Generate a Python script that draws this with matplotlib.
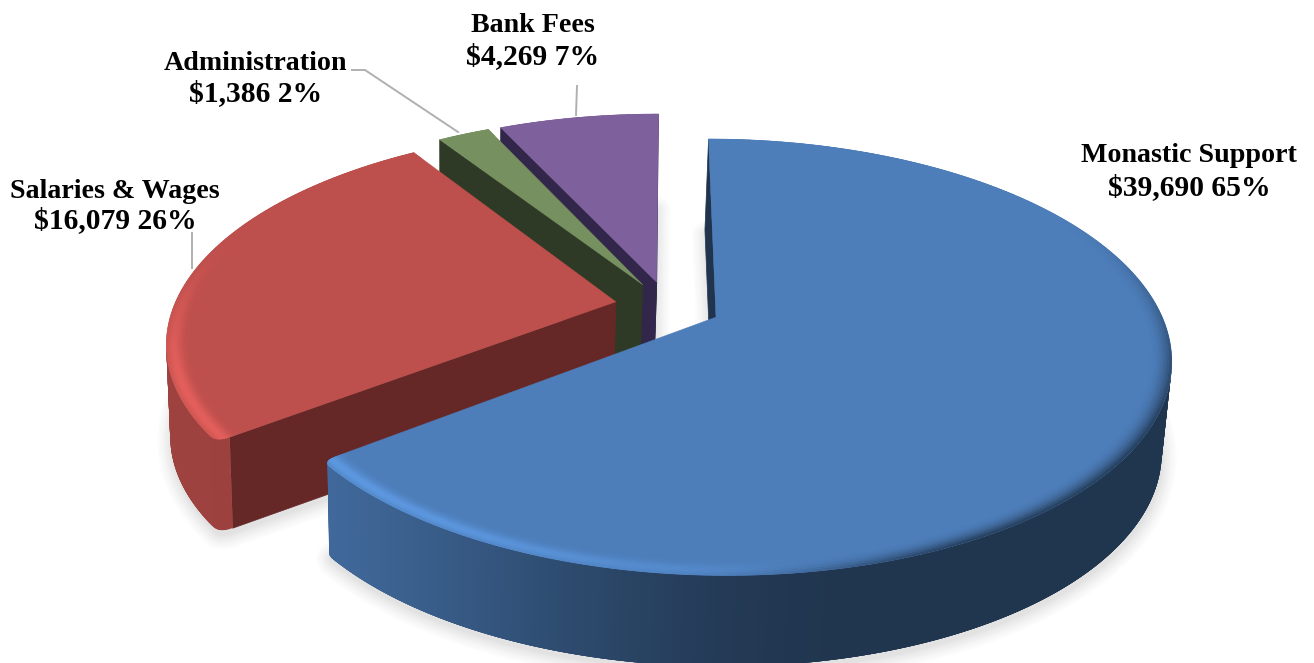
import numpy as np
import matplotlib
matplotlib.use("Agg")
import matplotlib.pyplot as plt
from matplotlib.collections import PolyCollection
from matplotlib.colors import to_rgb
from matplotlib.patches import Polygon

categories = ["Monastic Support", "Salaries & Wages", "Administration", "Bank Fees"]
values = [39690, 16079, 1386, 4269]
top_colors = ["#4d7eba", "#bd4f4c", "#769060", "#7e619c"]
side_colors = ["#20344e", "#662827", "#2e3a25", "#32264a"]

# label centre x, first line y, second line y
label_pos = [(1189, 155, 188), (115, 191, 221), (256, 63, 94), (533, 26, 57)]
leaders = [None, ([192, 192], [233, 268]), ([352, 365, 458], [70, 70, 132]), ([577, 576], [86, 115])]

# pie geometry, in pixels
cx, cy = 668, 306
R = 442
tilt = 0.468
persp = 0.182
explode = 0.12
depth = 91
lean_x, lean = 450, 0.014
fillet_angle, fillet_frac = 1.6, 0.03


def smooth(a, b, x):
    t = np.clip((x - a) / (b - a), 0, 1)
    return t * t * (3 - 2 * t)


def project(u, v):
    u, v = np.asarray(u, float), np.asarray(v, float)
    w = 1 + persp * v
    return cx + R * u / w, cy - R * tilt * v / w


def to_bottom(x, y):
    return x + lean * (lean_x - x), y + depth


def plane(a, ox, oy, frac=1.0):
    t = np.radians(a)
    return ox + frac * np.sin(t), oy + frac * np.cos(t)


def rim_path(a0, a1, ox, oy, step=0.5):
    # plane points along the rim, the front corners get a small fillet
    a_start = a0 + fillet_angle if 180 < a0 < 300 else a0
    a_end = a1 - fillet_angle if 180 < a1 < 300 else a1
    ang = np.r_[np.arange(a_start, a_end, step), a_end]
    u, v = plane(ang, ox, oy)
    s = np.linspace(0, 1, 10)
    if a_start != a0:
        p0, c, p2 = plane(a0, ox, oy, 1 - fillet_frac), plane(a0, ox, oy), plane(a_start, ox, oy)
        bu = (1 - s) ** 2 * p0[0] + 2 * s * (1 - s) * c[0] + s ** 2 * p2[0]
        bv = (1 - s) ** 2 * p0[1] + 2 * s * (1 - s) * c[1] + s ** 2 * p2[1]
        u, v, ang = np.r_[bu[:-1], u], np.r_[bv[:-1], v], np.r_[np.full(9, a0), ang]
    if a_end != a1:
        p0, c, p2 = plane(a_end, ox, oy), plane(a1, ox, oy), plane(a1, ox, oy, 1 - fillet_frac)
        bu = (1 - s) ** 2 * p0[0] + 2 * s * (1 - s) * c[0] + s ** 2 * p2[0]
        bv = (1 - s) ** 2 * p0[1] + 2 * s * (1 - s) * c[1] + s ** 2 * p2[1]
        u, v, ang = np.r_[u, bu[1:]], np.r_[v, bv[1:]], np.r_[ang, np.full(9, a1)]
    return u, v, ang


fig = plt.figure(figsize=(13.14, 6.63), dpi=100)
ax = fig.add_axes([0, 0, 1, 1])
ax.set_xlim(0, 1314)
ax.set_ylim(663, 0)
ax.axis("off")

total = sum(values)
bounds = np.r_[0, np.cumsum(values)] / total * 360
slices = []
for i in range(len(values)):
    mid = np.radians((bounds[i] + bounds[i + 1]) / 2)
    slices.append((bounds[i], bounds[i + 1], explode * np.sin(mid), explode * np.cos(mid)))

eye_v = -1 / persp

# soft shadow, widest and palest first
for level in np.linspace(1, 0, 14):
    grey = 0.885 + 0.115 * level ** 0.8
    for a0, a1, ox, oy in slices:
        u, v, _ = rim_path(a0, a1, ox, oy)
        x, y = project(np.r_[ox, u], np.r_[oy, v])
        bx, by = to_bottom(x, y)
        ax.fill(bx + 1, by + 5, facecolor=(grey, grey, grey), edgecolor=(grey, grey, grey),
                linewidth=2 * 15 * 0.72 * level, joinstyle="round", zorder=1)

# back slices first, blue goes on last
for i in [3, 2, 1, 0]:
    a0, a1, ox, oy = slices[i]
    base = np.array(to_rgb(top_colors[i]))
    z = 10 + (3 - i) * 10
    u, v, ang = rim_path(a0, a1, ox, oy)
    x, y = project(u, v)
    bx, by = to_bottom(x, y)
    ox_s, oy_s = project(ox, oy)
    obx, oby = to_bottom(ox_s, oy_s)

    # flat walls that face the viewer
    for j, (a, sign) in enumerate([(a0, -1), (a1, 1)]):
        t = np.radians(a)
        nu, nv = sign * np.cos(t), -sign * np.sin(t)
        pu, pv = plane(a, ox, oy)
        if nu * (0 - pu) + nv * (eye_v - pv) <= 0:
            continue
        k = 0 if j == 0 else -1
        ax.fill([ox_s, x[k], bx[k], obx], [oy_s, y[k], by[k], oby], color=side_colors[i], lw=0.5, zorder=z)

    # curved wall, shaded by angle; every strip runs under the next so no seams show
    polys, cols = [], []
    n = len(x)
    for k in range(n - 1):
        nu, nv = np.sin(np.radians(ang[k])), np.cos(np.radians(ang[k]))
        if nu * (0 - u[k]) + nv * (eye_v - v[k]) <= 0:
            continue
        e = min(k + 4, n - 1)
        polys.append([(x[k], y[k]), (x[e], y[e]), (bx[e], by[e]), (bx[k], by[k])])
        f = 0.42 + 0.41 * smooth(165, 235, ang[k])
        cols.append(np.clip(base * f, 0, 1))
    if polys:
        ax.add_collection(PolyCollection(polys, facecolors=cols, edgecolors="none", linewidths=0, zorder=z + 1))

    # top face
    top = Polygon(np.c_[np.r_[ox_s, x], np.r_[oy_s, y]], closed=True, facecolor=top_colors[i],
                  edgecolor=top_colors[i], lw=0.3, zorder=z + 2)
    ax.add_patch(top)

    # rounded rim, lit on the left and falling into shadow on the right
    fracs = np.linspace(0.95, 1.0, 11)
    ring = np.arange(a0, a1, 1.0)
    polys, cols = [], []
    for m in range(len(fracs) - 1):
        f0, f1 = fracs[m], fracs[min(m + 2, len(fracs) - 1)]
        s = (fracs[m] - 0.95) / 0.05
        bell = np.exp(-((s - 0.62) / 0.36) ** 2)
        for p in ring:
            q = min(p + 2.5, a1)
            corners = [plane(p, ox, oy, f0), plane(q, ox, oy, f0), plane(q, ox, oy, f1), plane(p, ox, oy, f1)]
            polys.append([tuple(map(float, project(*c))) for c in corners])
            light = smooth(150, 222, p) * (1 - smooth(245, 292, p))
            dark = smooth(55, 125, p) * (1 - smooth(150, 185, p))
            c = base + (np.clip(base * 1.2, 0, 1) - base) * light * bell
            c = c * (1 - 0.58 * dark * s ** 2)
            cols.append(np.clip(c, 0, 1))
    rim = PolyCollection(polys, facecolors=cols, edgecolors="none", linewidths=0, zorder=z + 3)
    ax.add_collection(rim)
    rim.set_clip_path(top)

# labels and leader lines
for i, name in enumerate(categories):
    pct = round(values[i] / total * 100)
    lx, y1, y2 = label_pos[i]
    ax.text(lx, y1, name, ha="center", va="center", fontsize=20.2, fontweight="bold",
            family="Liberation Serif", color="black", zorder=100)
    ax.text(lx, y2, f"${values[i]:,} {pct}%", ha="center", va="center", fontsize=21.3, fontweight="bold",
            family="Liberation Serif", color="black", zorder=100)
    if leaders[i]:
        ax.plot(leaders[i][0], leaders[i][1], color="#b0b0b0", lw=1.4, zorder=5)

fig.savefig("out.png", dpi=100, facecolor="white")
